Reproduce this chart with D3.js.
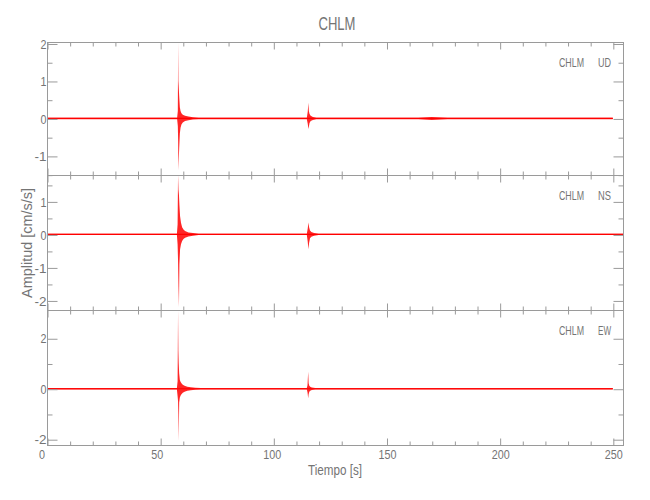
<!DOCTYPE html>
<html>
<head>
<meta charset="utf-8">
<script src="https://cdn.jsdelivr.net/npm/d3@7"></script>
<style>
  html, body { margin: 0; padding: 0; background: #fff; }
  svg { display: block; }
  text { font-family: "Liberation Sans", Arial, "DejaVu Sans", sans-serif; fill: #747474; }
</style>
</head>
<body>
<svg id="chart" width="650" height="500"></svg>
<script>
// ---------------- data ----------------
const station = "CHLM";
const components = ["UD", "NS", "EW"];
const xLabel = "Tiempo [s]";
const yLabel = "Amplitud [cm/s/s]";

const xMajorTicks = [0, 50, 100, 150, 200, 250];
const xMinorTicks = [10, 20, 30, 40, 60, 70, 80, 90, 110, 120, 130, 140, 160, 170, 180, 190, 210, 220, 230, 240];
const xDomain = [0, 254.5];

// UD envelope (time [s], upper, lower amplitude)
const udTime = [0, 57.5, 57.8, 57.95, 58.05, 58.15, 58.4, 58.7, 59.0, 59.4, 60, 61, 62.5, 64.5, 67, 114.8, 115.2, 115.5, 115.7, 116, 116.5, 117.5, 119, 164, 170, 177, 250];
const udHigh = [0.02, 0.02, 0.2, 2.03, 1.0, 0.9, 0.6, 0.3, 0.2, 0.14, 0.1, 0.07, 0.05, 0.03, 0.02, 0.02, 0.18, 0.42, 0.2, 0.12, 0.07, 0.04, 0.02, 0.02, 0.04, 0.02, 0.02];
const udLow  = [-0.02, -0.02, -0.2, -0.6, -1.38, -1.2, -0.8, -0.4, -0.25, -0.16, -0.11, -0.07, -0.05, -0.03, -0.02, -0.02, -0.14, -0.28, -0.22, -0.12, -0.07, -0.04, -0.02, -0.02, -0.04, -0.02, -0.02];
const udDomain = [-1.51, 2.04];
const udMajor = [-1, 0, 1, 2];
const udMinor = [-1.5, -0.5, 0.5, 1.5];

// NS envelope
const nsTime = [0, 57.4, 57.7, 57.9, 58.1, 58.3, 58.5, 58.8, 59.2, 59.7, 60.3, 61, 62.5, 64.5, 67, 114.8, 115.2, 115.5, 115.8, 116.2, 116.8, 118, 120, 254.5];
const nsHigh = [0.02, 0.02, 0.3, 1.8, 1.35, 1.2, 0.9, 0.55, 0.35, 0.22, 0.15, 0.1, 0.06, 0.04, 0.02, 0.02, 0.18, 0.36, 0.22, 0.12, 0.07, 0.04, 0.02, 0.02];
const nsLow  = [-0.02, -0.02, -0.3, -0.8, -1.6, -2.2, -0.9, -0.45, -0.3, -0.2, -0.14, -0.1, -0.06, -0.04, -0.02, -0.02, -0.22, -0.45, -0.26, -0.12, -0.07, -0.04, -0.02, -0.02];
const nsDomain = [-2.29, 1.80];
const nsMajor = [-2, -1, 0, 1];
const nsMinor = [-1.5, -0.5, 0.5, 1.5];

// EW envelope
const ewTime = [0, 57.4, 57.7, 57.9, 58.05, 58.2, 58.4, 58.7, 59.0, 59.4, 60, 60.8, 62, 63.5, 65.5, 68, 114.8, 115.1, 115.4, 115.6, 115.9, 116.3, 117, 118.5, 250];
const ewHigh = [0.03, 0.03, 0.3, 3.1, 1.5, 1.0, 0.6, 0.35, 0.28, 0.22, 0.16, 0.12, 0.08, 0.06, 0.04, 0.03, 0.03, 0.14, 0.67, 0.22, 0.12, 0.08, 0.05, 0.03, 0.03];
const ewLow  = [-0.03, -0.03, -0.3, -0.5, -1.0, -2.05, -0.55, -0.35, -0.28, -0.22, -0.16, -0.12, -0.08, -0.06, -0.04, -0.03, -0.03, -0.14, -0.38, -0.22, -0.12, -0.08, -0.05, -0.03, -0.03];
const ewDomain = [-2.23, 3.12];
const ewMajor = [-2, 0, 2];
const ewMinor = [-1, 1];

// ---------------- layout ----------------
const plotLeft = 47, plotRight = 623;
const panelEdges = [42, 175, 310, 445];
const axisColor = "#9a9a9a";
const traceColor = "#ff0000";
const xLabelShift = { 0: -6, 50: -4, 100: -2 };

const svg = d3.select("#chart");
const x = d3.scaleLinear().domain(xDomain).range([plotLeft, plotRight]);

const panels = [
  { comp: components[0], t: udTime, hi: udHigh, lo: udLow, domain: udDomain, major: udMajor, minor: udMinor },
  { comp: components[1], t: nsTime, hi: nsHigh, lo: nsLow, domain: nsDomain, major: nsMajor, minor: nsMinor },
  { comp: components[2], t: ewTime, hi: ewHigh, lo: ewLow, domain: ewDomain, major: ewMajor, minor: ewMinor }
];

function styleAxis(g) {
  g.select(".domain").remove();
  g.selectAll("line").attr("stroke", axisColor).attr("stroke-width", 1);
}
function narrowLabel(sel, perChar) {
  sel.attr("textLength", function () { return this.textContent.length * perChar; })
     .attr("lengthAdjust", "spacingAndGlyphs");
}

panels.forEach((p, i) => {
  const y0 = panelEdges[i], y1 = panelEdges[i + 1];
  const y = d3.scaleLinear().domain(p.domain).range([y1, y0]);
  const g = svg.append("g");

  // trace
  const pts = p.t.map((t, k) => ({ t: t, hi: p.hi[k], lo: p.lo[k] }));
  const area = d3.area().x(d => x(d.t)).y0(d => y(d.lo)).y1(d => y(d.hi));
  g.append("path").datum(pts).attr("d", area)
    .attr("fill", traceColor).attr("fill-opacity", 0.85).attr("stroke", "none");
  const line = d3.line().x(d => x(d.t)).y(() => y(0));
  g.append("path").datum([pts[0], pts[pts.length - 1]]).attr("d", line)
    .attr("fill", "none").attr("stroke", traceColor).attr("stroke-width", 1.2);

  // box
  g.append("rect").attr("x", plotLeft + 0.5).attr("y", y0 + 0.5)
    .attr("width", plotRight - plotLeft).attr("height", y1 - y0)
    .attr("fill", "none").attr("stroke", axisColor).attr("stroke-width", 1);

  // x ticks (top + bottom, inward)
  const isBottom = i === panels.length - 1;
  g.append("g").attr("transform", `translate(0.5,${y0 + 0.5})`)
    .call(d3.axisTop(x).tickValues(xMajorTicks).tickSize(-7).tickFormat("")).call(styleAxis);
  g.append("g").attr("transform", `translate(0.5,${y0 + 0.5})`)
    .call(d3.axisTop(x).tickValues(xMinorTicks).tickSize(-4).tickFormat("")).call(styleAxis);
  const bx = g.append("g").attr("transform", `translate(0.5,${y1 + 0.5})`)
    .call(d3.axisBottom(x).tickValues(xMajorTicks).tickSize(-7).tickPadding(4)
      .tickFormat(isBottom ? d3.format("d") : ""))
    .call(styleAxis);
  bx.selectAll("text").attr("font-size", 13).attr("fill", "#747474")
    .attr("dx", d => xLabelShift[d] || 0).call(narrowLabel, 6);
  g.append("g").attr("transform", `translate(0.5,${y1 + 0.5})`)
    .call(d3.axisBottom(x).tickValues(xMinorTicks).tickSize(-4).tickFormat("")).call(styleAxis);

  // y ticks (left + right, inward)
  const ly = g.append("g").attr("transform", `translate(${plotLeft + 0.5},0.5)`)
    .call(d3.axisLeft(y).tickValues(p.major).tickSize(-10).tickFormat(d => d < 0 ? "-" + Math.abs(d) : String(d)))
    .call(styleAxis);
  ly.selectAll("text").attr("font-size", 13).attr("fill", "#747474")
    .attr("text-anchor", "end").attr("x", -1).call(narrowLabel, 6);
  g.append("g").attr("transform", `translate(${plotLeft + 0.5},0.5)`)
    .call(d3.axisLeft(y).tickValues(p.minor).tickSize(-5).tickFormat("")).call(styleAxis);
  g.append("g").attr("transform", `translate(${plotRight + 0.5},0.5)`)
    .call(d3.axisRight(y).tickValues(p.major).tickSize(-10).tickFormat("")).call(styleAxis);
  g.append("g").attr("transform", `translate(${plotRight + 0.5},0.5)`)
    .call(d3.axisRight(y).tickValues(p.minor).tickSize(-5).tickFormat("")).call(styleAxis);

  // station / component label
  g.append("text").attr("x", 559).attr("y", y0 + 25).attr("font-size", 12.5)
    .attr("textLength", 25).attr("lengthAdjust", "spacingAndGlyphs").text(station);
  g.append("text").attr("x", 598).attr("y", y0 + 25).attr("font-size", 12.5)
    .attr("textLength", 13).attr("lengthAdjust", "spacingAndGlyphs").text(p.comp);
});

// title
svg.append("text").attr("x", 337).attr("y", 30).attr("text-anchor", "middle")
  .attr("font-size", 19).attr("textLength", 37).attr("lengthAdjust", "spacingAndGlyphs").text(station);

// x label
svg.append("text").attr("x", 335).attr("y", 475).attr("text-anchor", "middle")
  .attr("font-size", 14).attr("textLength", 54).attr("lengthAdjust", "spacingAndGlyphs").text(xLabel);

// y label
svg.append("text").attr("transform", "translate(32,243) rotate(-90)")
  .attr("text-anchor", "middle").attr("font-size", 14)
  .attr("textLength", 110).attr("lengthAdjust", "spacingAndGlyphs").text(yLabel);
</script>
</body>
</html>
